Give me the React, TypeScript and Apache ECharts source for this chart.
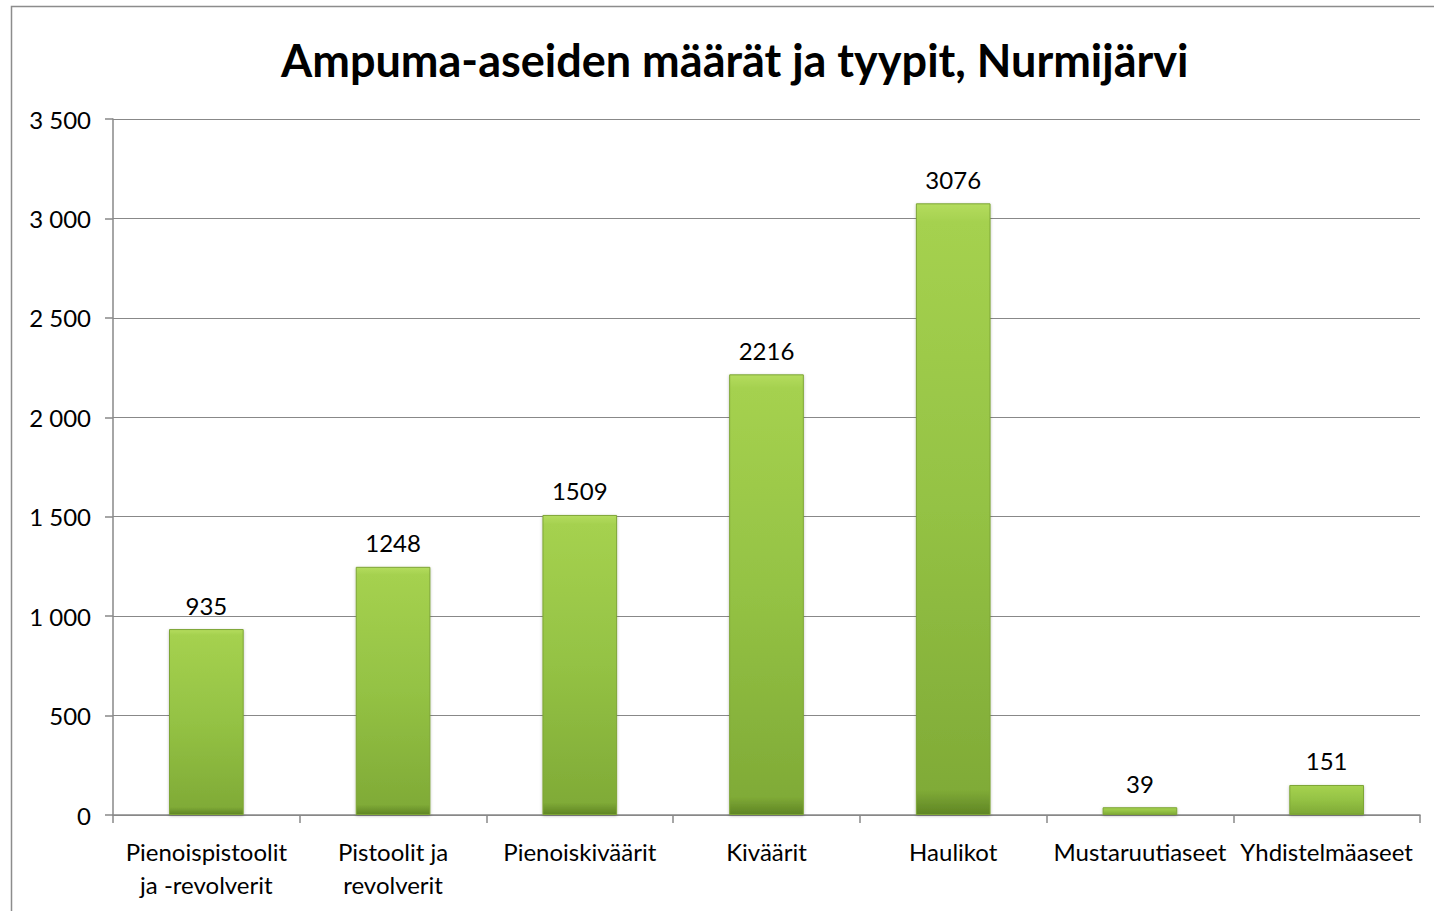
import React, { useEffect, useRef } from "react";
import * as echarts from "echarts";

const categories = [
  "Pienoispistoolit\nja -revolverit",
  "Pistoolit ja\nrevolverit",
  "Pienoiskiväärit",
  "Kiväärit",
  "Haulikot",
  "Mustaruutiaseet",
  "Yhdistelmäaseet",
];
const values = [935, 1248, 1509, 2216, 3076, 39, 151];
const title = "Ampuma-aseiden määrät ja tyypit, Nurmijärvi";

const FONT = "Lato, 'Open Sans', sans-serif";

export default function App() {
  const ref = useRef<HTMLDivElement>(null);
  useEffect(() => {
    if (!ref.current) return;
    const chart = echarts.init(ref.current, null, { renderer: "svg" });
    chart.setOption({
      animation: false,
      backgroundColor: "#ffffff",
      title: {
        text: title,
        left: 276,
        top: 32,
        textStyle: { fontFamily: FONT, fontSize: 45, fontWeight: "bold", color: "#000" },
      },
      graphic: [
        {
          type: "rect",
          shape: { x: 11.5, y: 6.5, width: 1500, height: 1000 },
          style: { fill: "none", stroke: "#8c8c8c", lineWidth: 1.5 },
          z: -1,
        },
      ],
      grid: { left: 113, right: 14, top: 119, bottom: 96, containLabel: false },
      xAxis: {
        type: "category",
        data: categories,
        axisLine: { lineStyle: { color: "#888", width: 1.5 } },
        axisTick: { show: true, length: 8, alignWithLabel: false, lineStyle: { color: "#888", width: 1.5 } },
        axisLabel: {
          interval: 0,
          fontFamily: FONT,
          fontSize: 24,
          color: "#000",
          margin: 20,
          lineHeight: 33,
        },
      },
      yAxis: {
        type: "value",
        min: 0,
        max: 3500,
        interval: 500,
        axisLine: { show: true, lineStyle: { color: "#888", width: 1.5 } },
        axisTick: { show: true, length: 8, lineStyle: { color: "#888", width: 1.5 } },
        splitLine: { lineStyle: { color: "#888", width: 1.2 } },
        axisLabel: {
          fontFamily: FONT,
          fontSize: 24,
          color: "#000",
          margin: 22,
          formatter: (v: number) => {
            const s = String(v);
            return s.length > 3 ? s.slice(0, s.length - 3) + " " + s.slice(-3) : s;
          },
        },
      },
      series: [
        {
          type: "bar",
          data: values,
          barWidth: "40%",
          itemStyle: {
            color: new echarts.graphic.LinearGradient(0, 0, 0, 1, [
              { offset: 0, color: "#b4dc5e" },
              { offset: 0.03, color: "#a5d14f" },
              { offset: 0.5, color: "#94c244" },
              { offset: 0.96, color: "#80ab37" },
              { offset: 1, color: "#5f8524" },
            ]),
            borderColor: "#7da535",
            borderWidth: 1,
            shadowColor: "rgba(0,0,0,0.25)",
            shadowBlur: 3,
            shadowOffsetY: 1,
          },
          label: {
            show: true,
            position: "top",
            distance: 12,
            fontFamily: FONT,
            fontSize: 24,
            color: "#000",
          },
        },
      ],
    });
    return () => chart.dispose();
  }, []);
  return (
    <div
      ref={ref}
      style={{ position: "fixed", left: 0, top: 0, width: 1434, height: 911 }}
    />
  );
}
